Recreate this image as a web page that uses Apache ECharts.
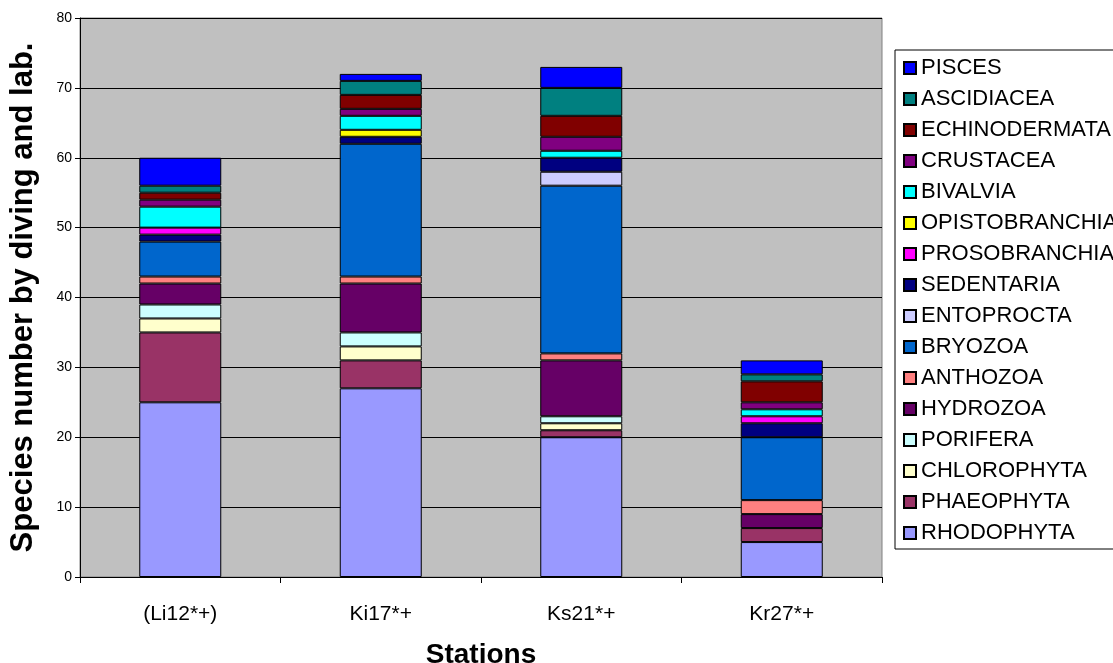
<!DOCTYPE html>
<html>
<head>
<meta charset="utf-8">
<script src="https://cdn.jsdelivr.net/npm/echarts@6/dist/echarts.min.js"></script>
<style>
  html, body { margin: 0; padding: 0; background: #fff; }
  #chart { width: 1113px; height: 663px; }
</style>
</head>
<body>
<div id="chart"></div>
<script>
// Stations on the x axis
const stations = ['(Li12*+)', 'Ki17*+', 'Ks21*+', 'Kr27*+'];

// Species counts per taxon, one value per station (stacked bottom to top)
const RHODOPHYTA     = [25, 27, 20, 5];
const PHAEOPHYTA     = [10, 4, 1, 2];
const CHLOROPHYTA    = [2, 2, 1, 0];
const PORIFERA       = [2, 2, 1, 0];
const HYDROZOA       = [3, 7, 8, 2];
const ANTHOZOA       = [1, 1, 1, 2];
const BRYOZOA        = [5, 19, 24, 9];
const ENTOPROCTA     = [0, 0, 2, 0];
const SEDENTARIA     = [1, 1, 2, 2];
const PROSOBRANCHIA  = [1, 0, 0, 1];
const OPISTOBRANCHIA = [0, 1, 0, 0];
const BIVALVIA       = [3, 2, 1, 1];
const CRUSTACEA      = [1, 1, 2, 1];
const ECHINODERMATA  = [1, 2, 3, 3];
const ASCIDIACEA     = [1, 2, 4, 1];
const PISCES         = [4, 1, 3, 2];

const yTicks = { min: 0, max: 80, step: 10 };

const taxa = [
  ['RHODOPHYTA', RHODOPHYTA, '#9999FF'],
  ['PHAEOPHYTA', PHAEOPHYTA, '#993366'],
  ['CHLOROPHYTA', CHLOROPHYTA, '#FFFFCC'],
  ['PORIFERA', PORIFERA, '#CCFFFF'],
  ['HYDROZOA', HYDROZOA, '#660066'],
  ['ANTHOZOA', ANTHOZOA, '#FF8080'],
  ['BRYOZOA', BRYOZOA, '#0066CC'],
  ['ENTOPROCTA', ENTOPROCTA, '#CCCCFF'],
  ['SEDENTARIA', SEDENTARIA, '#000080'],
  ['PROSOBRANCHIA', PROSOBRANCHIA, '#FF00FF'],
  ['OPISTOBRANCHIA', OPISTOBRANCHIA, '#FFFF00'],
  ['BIVALVIA', BIVALVIA, '#00FFFF'],
  ['CRUSTACEA', CRUSTACEA, '#800080'],
  ['ECHINODERMATA', ECHINODERMATA, '#800000'],
  ['ASCIDIACEA', ASCIDIACEA, '#008080'],
  ['PISCES', PISCES, '#0000FF']
];

const font = 'Liberation Sans, Arial, sans-serif';

const series = taxa.map(([name, values, color]) => ({
  name: name,
  type: 'bar',
  stack: 'total',
  barWidth: 82,
  data: values.map(v => (v === 0 ? null : v)),
  itemStyle: { color: color, borderColor: '#000', borderWidth: 1 },
  emphasis: { disabled: true }
}));

const chart = echarts.init(document.getElementById('chart'), null, { renderer: 'canvas' });
chart.setOption({
  animation: false,
  backgroundColor: '#fff',
  textStyle: { fontFamily: font },
  grid: {
    left: 80, top: 18, width: 802, height: 559,
    outerBoundsMode: 'none',
    containLabel: false,
    show: true, backgroundColor: '#C0C0C0', borderColor: '#808080', borderWidth: 1
  },
  legend: {
    orient: 'vertical',
    left: 895, top: 50,
    padding: [7, 40, 5, 8],
    backgroundColor: '#fff',
    borderColor: '#000',
    borderWidth: 1,
    icon: 'rect',
    itemWidth: 12, itemHeight: 12,
    itemGap: 9,
    data: taxa.map(t => t[0]).reverse(),
    textStyle: { fontFamily: font, fontSize: 22, color: '#000', lineHeight: 22 },
    selectedMode: false
  },
  xAxis: {
    type: 'category',
    data: stations,
    name: 'Stations',
    nameLocation: 'middle',
    nameGap: 64,
    nameTextStyle: { fontFamily: font, fontSize: 28, fontWeight: 'bold', color: '#000' },
    axisLine: { lineStyle: { color: '#000', width: 1 } },
    axisTick: { show: true, alignWithLabel: false, length: 6, lineStyle: { color: '#000' } },
    axisLabel: { fontFamily: font, fontSize: 21, color: '#000', margin: 27 }
  },
  yAxis: {
    type: 'value',
    min: yTicks.min, max: yTicks.max, interval: yTicks.step,
    name: 'Species number by diving and lab.',
    nameLocation: 'middle',
    nameGap: 41,
    nameTextStyle: { fontFamily: font, fontSize: 31, fontWeight: 'bold', color: '#000' },
    axisLine: { show: true, lineStyle: { color: '#000', width: 1 } },
    axisTick: { show: true, length: 5, lineStyle: { color: '#000' } },
    axisLabel: { fontFamily: font, fontSize: 14, color: '#000', margin: 8 },
    splitLine: { show: true, lineStyle: { color: '#000', width: 1 } }
  },
  series: series
});
</script>
</body>
</html>
